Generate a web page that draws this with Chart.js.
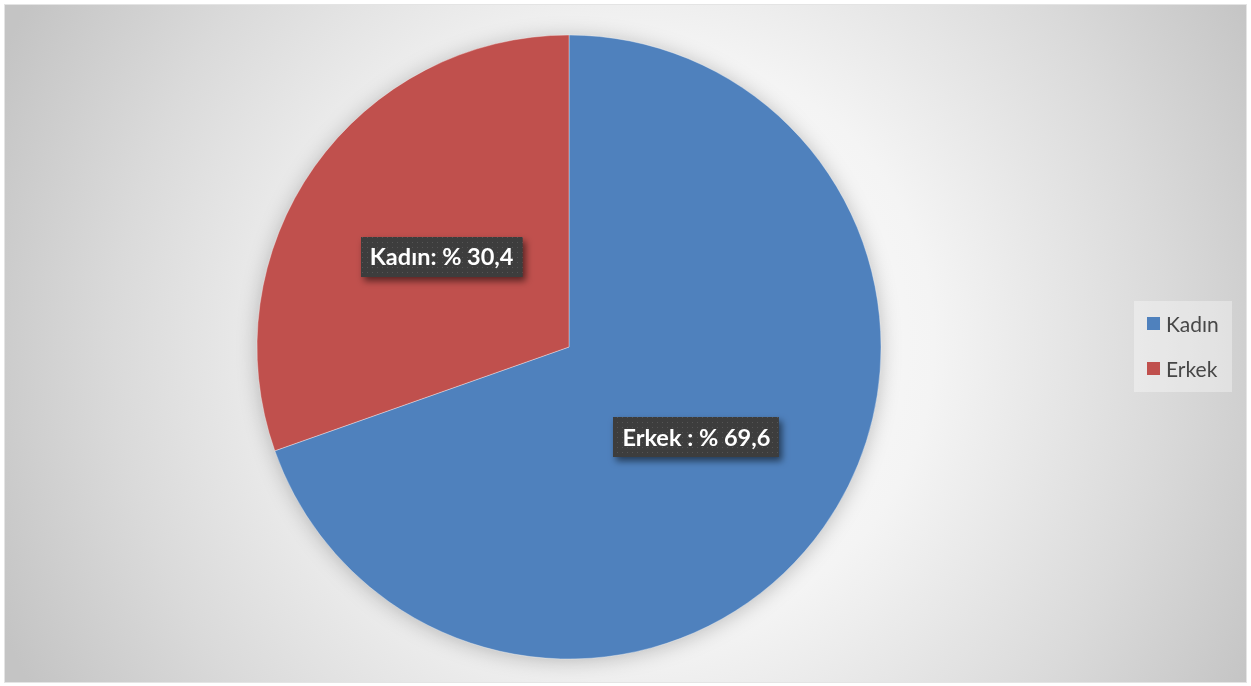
<!DOCTYPE html>
<html>
<head>
<meta charset="utf-8">
<script src="https://cdn.jsdelivr.net/npm/chart.js@4"></script>
<style>
  html, body { margin: 0; padding: 0; background: #ffffff; }
  #wrap { width: 1251px; height: 686px; position: relative; }
</style>
</head>
<body>
<div id="wrap"><canvas id="c" width="1251" height="686"></canvas></div>
<script>
// Cinsiyet dağılımı
const categories = ['Kadın', 'Erkek'];
const values = [69.6, 30.4];
const sliceLabels = ['Erkek : % 69,6', 'Kadın: % 30,4'];
const sliceColors = ['#4F81BD', '#C0504D'];

// Gradient frame behind the pie
const framePlugin = {
  id: 'frame',
  beforeDraw(chart) {
    const ctx = chart.ctx;
    const x0 = 4, y0 = 4, x1 = 1247, y1 = 683;
    ctx.save();
    const g = ctx.createRadialGradient(640, 343, 0, 640, 343, 700);
    g.addColorStop(0, '#ffffff');
    g.addColorStop(0.42, '#f4f4f4');
    g.addColorStop(0.75, '#dadada');
    g.addColorStop(1, '#c4c4c4');
    ctx.fillStyle = g;
    ctx.fillRect(x0, y0, x1 - x0, y1 - y0);
    ctx.strokeStyle = '#e4e4e4';
    ctx.lineWidth = 1;
    ctx.strokeRect(x0 + 0.5, y0 + 0.5, x1 - x0 - 1, y1 - y0 - 1);
    ctx.restore();
  },
  beforeDatasetsDraw(chart) {
    // soft shadow under the pie
    const arc = chart.getDatasetMeta(0).data[0];
    if (!arc) return;
    const ctx = chart.ctx;
    ctx.save();
    ctx.shadowColor = 'rgba(0,0,0,0.28)';
    ctx.shadowBlur = 22;
    ctx.shadowOffsetX = 0;
    ctx.shadowOffsetY = 2;
    ctx.fillStyle = '#ffffff';
    ctx.beginPath();
    ctx.arc(arc.x, arc.y, arc.outerRadius - 2, 0, Math.PI * 2);
    ctx.fill();
    ctx.restore();
  }
};

// Dark patterned value boxes at each slice's centre point
function makePattern(ctx) {
  const p = document.createElement('canvas');
  p.width = 5; p.height = 5;
  const pc = p.getContext('2d');
  pc.fillStyle = '#3d3d3d';
  pc.fillRect(0, 0, 5, 5);
  pc.fillStyle = '#555555';
  pc.fillRect(2, 2, 1, 1);
  return ctx.createPattern(p, 'repeat');
}

const labelPlugin = {
  id: 'sliceLabels',
  afterDatasetsDraw(chart) {
    const ctx = chart.ctx;
    const meta = chart.getDatasetMeta(0);
    const pattern = makePattern(ctx);
    ctx.save();
    ctx.font = 'bold 23.5px Lato, "Open Sans", sans-serif';
    ctx.textAlign = 'center';
    ctx.textBaseline = 'middle';
    meta.data.forEach((arc, i) => {
      const pt = arc.getCenterPoint();
      const text = sliceLabels[i];
      const w = ctx.measureText(text).width + 18;
      const h = 40;
      const bx = Math.round(pt.x - w / 2), by = Math.round(pt.y - h / 2);
      ctx.save();
      ctx.shadowColor = 'rgba(0,0,0,0.55)';
      ctx.shadowBlur = 7;
      ctx.shadowOffsetX = 3;
      ctx.shadowOffsetY = 4;
      ctx.fillStyle = pattern;
      ctx.fillRect(bx, by, w, h);
      ctx.restore();
      ctx.fillStyle = '#ffffff';
      ctx.fillText(text, pt.x, pt.y + 1);
    });
    ctx.restore();
  }
};

// Legend on the right
const legendPlugin = {
  id: 'sideLegend',
  afterDraw(chart) {
    const ctx = chart.ctx;
    ctx.save();
    ctx.fillStyle = 'rgba(255,255,255,0.35)';
    ctx.fillRect(1134, 301, 98, 91);
    ctx.font = '21px Lato, "Open Sans", sans-serif';
    ctx.textBaseline = 'alphabetic';
    ctx.textAlign = 'left';
    const rows = [324, 369];
    categories.forEach((name, i) => {
      const cy = rows[i];
      ctx.fillStyle = sliceColors[i];
      ctx.fillRect(1147, cy - 7, 13, 13);
      ctx.fillStyle = '#474747';
      ctx.fillText(name, 1166, cy + 8);
    });
    ctx.restore();
  }
};

new Chart(document.getElementById('c'), {
  type: 'pie',
  data: {
    labels: categories,
    datasets: [{
      data: values,
      backgroundColor: sliceColors,
      borderColor: 'rgba(255,255,255,0.35)',
      borderWidth: 1,
      radius: 312
    }]
  },
  options: {
    responsive: false,
    animation: false,
    events: [],
    layout: { padding: { left: 257, right: 370, top: 35, bottom: 27 } },
    plugins: {
      legend: { display: false },
      tooltip: { enabled: false }
    }
  },
  plugins: [framePlugin, labelPlugin, legendPlugin]
});
</script>
</body>
</html>
